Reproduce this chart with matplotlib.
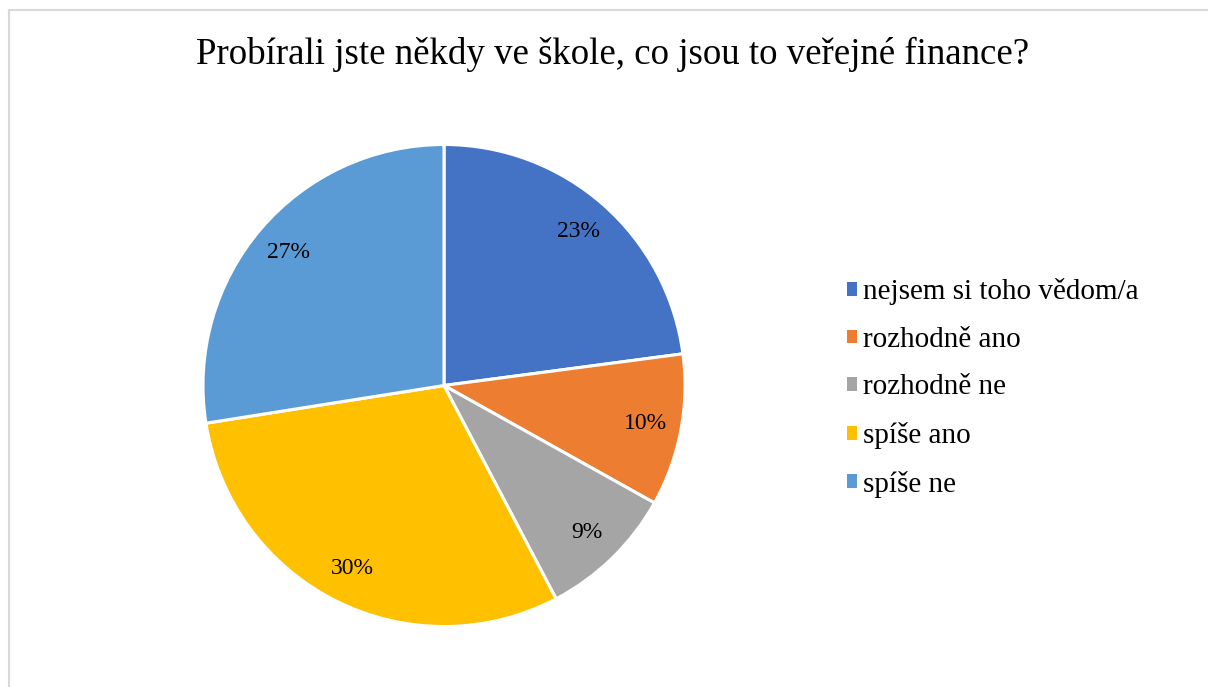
import matplotlib
matplotlib.use("Agg")
import matplotlib.pyplot as plt
from matplotlib.patches import Patch
from matplotlib.lines import Line2D

plt.rcParams['font.family'] = ['Liberation Serif', 'DejaVu Serif']

title = "Probírali jste někdy ve škole, co jsou to veřejné finance?"
categories = ["nejsem si toho vědom/a", "rozhodně ano", "rozhodně ne", "spíše ano", "spíše ne"]
values = [22.9, 10.2, 9.2, 30.2, 27.5]
labels_pct = ["23%", "10%", "9%", "30%", "27%"]
colors = ["#4472C4", "#ED7D31", "#A5A5A5", "#FFC000", "#5B9BD5"]

W, H = 1208, 687
fig = plt.figure(figsize=(W / 100, H / 100), dpi=100)

# chart border (top and left visible)
fig.add_artist(Line2D([9 / W, 9 / W], [0, 1 - 10 / H], transform=fig.transFigure, color="#D9D9D9", lw=1.5))
fig.add_artist(Line2D([9 / W, 1], [1 - 10 / H, 1 - 10 / H], transform=fig.transFigure, color="#D9D9D9", lw=1.5))

cx, cy, R = 444, 385.5, 241
ax = fig.add_axes([(cx - R) / W, (H - cy - R) / H, 2 * R / W, 2 * R / H])
wedges, texts = ax.pie(values, colors=colors, startangle=90, counterclock=False,
                       radius=1, labels=labels_pct, labeldistance=0.85,
                       wedgeprops=dict(edgecolor="white", linewidth=2.2),
                       textprops=dict(fontsize=17))
for t in texts:
    t.set_horizontalalignment("center")
    t.set_verticalalignment("center")
ax.set_xlim(-1, 1)
ax.set_ylim(-1, 1)
ax.set_aspect("equal")
ax.axis("off")

fig.text(613 / W, 1 - 63.5 / H, title, ha="center", va="baseline", fontsize=26.6)

handles = [Patch(facecolor=c, edgecolor="none") for c in colors]
leg = fig.legend(handles, categories, loc="center left", bbox_to_anchor=(847 / W, 1 - 388 / H),
                 frameon=False, fontsize=21, handlelength=0.35, handleheight=0.35,
                 handletextpad=0.2, labelspacing=0.74, borderpad=0, borderaxespad=0)

fig.savefig("out.png", dpi=100)
